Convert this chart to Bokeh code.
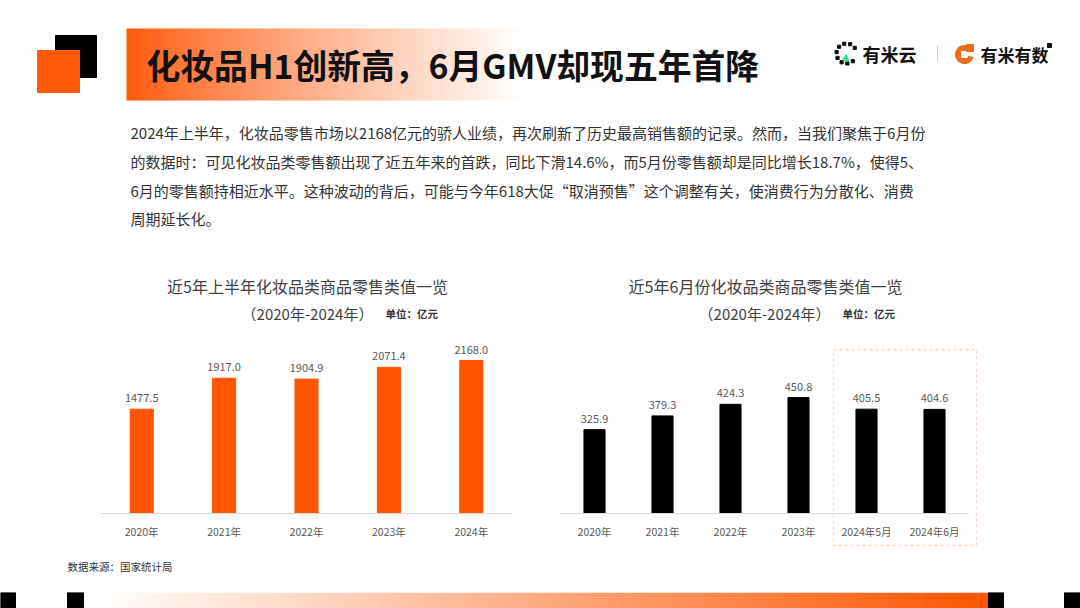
import numpy as np
from bokeh.plotting import figure
from bokeh.layouts import column, row
from bokeh.models import Range1d, FactorRange, BoxAnnotation, Title
from bokeh.core.properties import value
from bokeh.embed import file_html
from bokeh.resources import INLINE

# ---------------- data ----------------
h1_years = ["2020年", "2021年", "2022年", "2023年", "2024年"]
h1_values = [1477.5, 1917.0, 1904.9, 2071.4, 2168.0]

june_cats = ["2020年", "2021年", "2022年", "2023年", "2024年5月", "2024年6月"]
june_values = [325.9, 379.3, 424.3, 450.8, 405.5, 404.6]

title_text = "化妆品H1创新高，6月GMV却现五年首降"
para_lines = [
    "2024年上半年，化妆品零售市场以2168亿元的骄人业绩，再次刷新了历史最高销售额的记录。然而，当我们聚焦于6月份",
    "的数据时：可见化妆品类零售额出现了近五年来的首跌，同比下滑14.6%，而5月份零售额却是同比增长18.7%，使得5、",
    "6月的零售额持相近水平。这种波动的背后，可能与今年618大促“取消预售”这个调整有关，使消费行为分散化、消费",
    "周期延长化。",
]
left_title = ["近5年上半年化妆品类商品零售类值一览", "（2020年-2024年）"]
right_title = ["近5年6月份化妆品类商品零售类值一览", "（2020年-2024年）"]
unit_text = "单位：亿元"
source_text = "数据来源：国家统计局"

FONT = value("Noto Sans CJK SC")
ORANGE = "#FF5500"


def hexcol(rgb):
    return "#%02x%02x%02x" % tuple(int(round(c)) for c in rgb)


def canvas(w, h):
    p = figure(width=w, height=h, x_range=Range1d(0, w), y_range=Range1d(h, 0),
               x_axis_location=None, y_axis_location=None, toolbar_location=None,
               output_backend="svg", min_border=0, outline_line_color=None)
    p.grid.visible = False
    return p


# ---------------- header figure ----------------
W, HT = 1080, 325
top = canvas(W, HT)

# decorative squares
top.quad(left=[55], right=[96], top=[35], bottom=[77], color="#000000")
top.quad(left=[37], right=[79], top=[50], bottom=[92], color="#FF5A0A")

# gradient banner
n = 140
xs = np.linspace(126, 525, n + 1)
c0 = np.array([255, 88, 10])
c1 = np.array([255, 255, 255])
cols = []
for i in range(n):
    t = (i / (n - 1)) ** 0.85
    cols.append(hexcol(c0 + (c1 - c0) * t))
top.quad(left=xs[:-1], right=xs[1:] + 0.6, top=[28] * n, bottom=[100] * n,
         fill_color=cols, line_color=None)

top.text(x=[146], y=[64], text=[title_text], text_font=FONT, text_font_size="33.8px",
         text_font_style="bold", text_color="#111111", text_baseline="middle")

# logos
ang = np.linspace(0.6, 5.4, 9)
top.quad(left=846 + 10 * np.cos(ang) - 1.6, right=846 + 10 * np.cos(ang) + 1.6,
         top=53 - 10 * np.sin(ang) - 1.6, bottom=53 - 10 * np.sin(ang) + 1.6,
         color="#111111")
top.wedge(x=[846], y=[53], radius=8, start_angle=-2.2, end_angle=-1.2,
          color="#3DDC97", line_color=None)
top.text(x=[862], y=[53], text=["有米云"], text_font=FONT, text_font_size="18px",
         text_font_style="bold", text_color="#111111", text_baseline="middle")
top.segment(x0=[937], y0=[45], x1=[937], y1=[61], line_color="#cccccc", line_width=1)
top.wedge(x=[964], y=[54], radius=9.5, start_angle=0.5, end_angle=-0.3 + 2 * np.pi,
          color="#F26A1B", line_color=None)
top.quad(left=[961], right=[967], top=[51], bottom=[57], color="#ffffff")
top.quad(left=[966], right=[973], top=[44], bottom=[51], color="#F26A1B")
top.text(x=[980], y=[54], text=["有米有数"], text_font=FONT, text_font_size="17px",
         text_font_style="bold", text_color="#111111", text_baseline="middle")
top.quad(left=[1047], right=[1051], top=[43], bottom=[47], color="#111111")

# paragraph
top.text(x=[130] * 4, y=[132, 161, 190, 218], text=para_lines, text_font=FONT,
         text_font_size="15px", text_color="#333333", text_baseline="middle")

# chart titles
top.text(x=[307, 765], y=[285, 285], text=[left_title[0], right_title[0]], text_font=FONT,
         text_font_size="16px", text_color="#404040", text_baseline="middle", text_align="center")
top.text(x=[307, 764], y=[313, 313], text=[left_title[1], right_title[1]], text_font=FONT,
         text_font_size="15px", text_color="#404040", text_baseline="middle", text_align="center")
top.text(x=[385, 842], y=[313, 313], text=[unit_text, unit_text], text_font=FONT,
         text_font_size="10.5px", text_font_style="bold", text_color="#333333",
         text_baseline="middle")


# ---------------- charts ----------------
def style_axis(p):
    p.grid.visible = False
    p.yaxis.visible = False
    ax = p.xaxis[0]
    ax.axis_line_color = "#d9d9d9"
    ax.axis_line_width = 1
    ax.major_tick_line_color = None
    ax.minor_tick_line_color = None
    ax.major_tick_out = 0
    ax.major_tick_in = 0
    ax.major_label_standoff = 10
    ax.major_label_text_font = "Noto Sans CJK SC"
    ax.major_label_text_font_size = "10.5px"
    ax.major_label_text_color = "#595959"
    return ax


def add_bars(p, cats, vals, color, bar_w):
    p.vbar(x=cats, top=vals, width=bar_w, color=color)
    p.text(x=cats, y=vals, text=["%.1f" % v for v in vals], text_font=FONT,
           text_font_size="11px", text_color="#595959", text_align="center",
           text_baseline="bottom", y_offset=-7)


# left chart (frame 100..512 x, 325..513 y)
left = figure(width=540, height=225, x_range=FactorRange(factors=h1_years),
              y_range=Range1d(0, 2664), toolbar_location=None, output_backend="svg",
              min_border_left=100, min_border_right=28, min_border_top=0,
              min_border_bottom=37, outline_line_color=None)
style_axis(left)
add_bars(left, h1_years, h1_values, ORANGE, 0.28)

# source note under the left chart (as a left-aligned title, shifted to x=67)
src = figure(width=540, height=42, toolbar_location=None, output_backend="svg",
             x_axis_location=None, y_axis_location=None, min_border_left=100,
             min_border_right=28, min_border_top=28, min_border_bottom=0,
             outline_line_color=None)
src.grid.visible = False
src.add_layout(Title(text=source_text, align="left", offset=-33, standoff=10,
                     text_font="Noto Sans CJK SC", text_font_size="10.5px",
                     text_font_style="normal", text_color="#333333"), "above")

# right chart: frame 543..985 x, 325..555 y; axis fixed at value 0
right = figure(frame_width=442, frame_height=230,
               x_range=FactorRange(factors=june_cats, range_padding=0.25,
                                   range_padding_units="absolute"),
               y_range=Range1d(-163.2, 730.6), toolbar_location=None, output_backend="svg",
               min_border_left=3, min_border_right=95, min_border_top=0,
               min_border_bottom=37, outline_line_color=None)
rax = style_axis(right)
rax.fixed_location = 0
rax.bounds = (0, 6)
add_bars(right, june_cats, june_values, "#000000", 0.31)
right.add_layout(BoxAnnotation(left=4.015, right=6.118, bottom=-124.4, top=637.4,
                               fill_color=None, fill_alpha=0, line_color="#EE7A3A",
                               line_width=1.3, line_dash="3 3"))

# ---------------- footer bar ----------------
bar = canvas(W, 16)
m = 160
gx = np.linspace(92, 988, m + 1)
g0 = np.array([255, 255, 255])
g1 = np.array([255, 85, 0])
gcols = [hexcol(g0 + (g1 - g0) * (i / (m - 1))) for i in range(m)]
bar.quad(left=gx[:-1], right=gx[1:] + 0.6, top=[0] * m, bottom=[16] * m,
         fill_color=gcols, line_color=None)
bar.quad(left=[0, 67, 988, 1064], right=[15, 83, 1003, 1080], top=[0] * 4,
         bottom=[16] * 4, color="#000000")

layout = column(top, row(column(left, src, spacing=0), right, spacing=0), bar, spacing=0)
open("out.html", "w").write(file_html(layout, INLINE))
